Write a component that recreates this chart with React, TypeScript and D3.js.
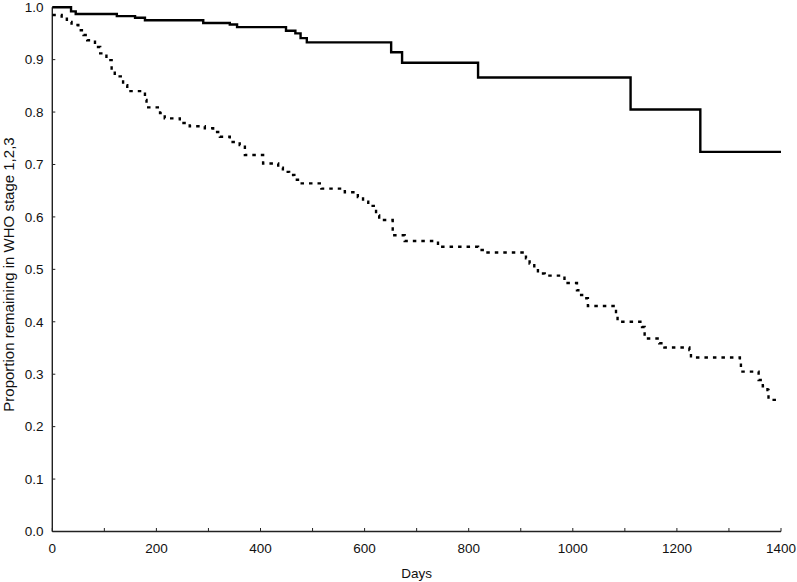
import React from 'react';
import * as d3 from 'd3';

// Kaplan-Meier style step data (day of step, proportion after step)
const groupADays = [0, 36, 45, 124, 159, 178, 290, 341, 355, 449, 467, 477, 489, 651, 672, 818, 1111, 1245, 1400];
const groupAValues = [1.0, 0.992, 0.987, 0.983, 0.98, 0.975, 0.97, 0.967, 0.962, 0.955, 0.95, 0.941, 0.933, 0.914, 0.894, 0.866, 0.805, 0.724, 0.724];

const groupBDays = [
  0, 18, 28, 37, 50, 60, 67, 82, 92, 104, 114, 120, 136, 144, 178, 181, 207, 216, 245, 264,
  293, 309, 322, 341, 360, 370, 405, 434, 443, 455, 465, 472, 517, 562, 587, 597, 607, 622,
  628, 654, 677, 741, 818, 830, 910, 917, 926, 933, 946, 984, 1008, 1016, 1026, 1029, 1083,
  1086, 1133, 1138, 1166, 1176, 1224, 1227, 1321, 1323, 1357, 1365, 1374, 1376, 1395,
];
const groupBValues = [
  0.985, 0.978, 0.972, 0.966, 0.956, 0.947, 0.937, 0.924, 0.912, 0.899, 0.883, 0.868, 0.851,
  0.84, 0.823, 0.809, 0.798, 0.788, 0.779, 0.773, 0.769, 0.762, 0.753, 0.743, 0.737, 0.718,
  0.702, 0.694, 0.686, 0.68, 0.671, 0.664, 0.654, 0.647, 0.638, 0.629, 0.621, 0.603, 0.594,
  0.565, 0.554, 0.543, 0.537, 0.532, 0.521, 0.511, 0.502, 0.492, 0.488, 0.474, 0.46, 0.451,
  0.445, 0.43, 0.416, 0.4, 0.39, 0.368, 0.359, 0.351, 0.346, 0.332, 0.321, 0.305, 0.289,
  0.277, 0.27, 0.251, 0.248,
];

const xTicks = d3.range(0, 1401, 100);
const xLabels = d3.range(0, 1401, 200);
const yTicks = d3.range(0, 11).map((i) => i / 10);

const xTitle = 'Days';
const yTitle = 'Proportion remaining in WHO stage 1,2,3';

const W = 797;
const H = 582;
const font = '"Liberation Sans", Arial, sans-serif';

export default function App() {
  const x = d3.scaleLinear().domain([0, 1400]).range([52.3, 781]);
  const y = d3.scaleLinear().domain([0, 1]).range([531.5, 7.2]);

  const line = d3
    .line<[number, number]>()
    .x((d) => x(d[0]))
    .y((d) => y(d[1]))
    .curve(d3.curveStepAfter);

  const groupA = groupADays.map((d, i) => [d, groupAValues[i]] as [number, number]);
  const groupB = groupBDays.map((d, i) => [d, groupBValues[i]] as [number, number]);

  const axisColor = '#222';

  return (
    <svg
      width={W}
      height={H}
      style={{ position: 'absolute', left: 0, top: 0, background: '#fff' }}
      fontFamily={font}
    >
      {/* axes */}
      <line x1={x(0)} x2={x(0)} y1={y(0)} y2={y(1)} stroke={axisColor} strokeWidth={1.4} />
      <line x1={x(0)} x2={x(1400)} y1={y(0)} y2={y(0)} stroke={axisColor} strokeWidth={1.4} />

      {yTicks.map((t) => (
        <g key={'y' + t}>
          <line x1={x(0)} x2={x(0) + 3} y1={y(t)} y2={y(t)} stroke={axisColor} strokeWidth={1} />
          <text x={43.5} y={y(t)} dy="0.35em" textAnchor="end" fontSize={13.5} fill="#111">
            {d3.format('.1f')(t)}
          </text>
        </g>
      ))}

      {xTicks.map((t) => (
        <line key={'x' + t} x1={x(t)} x2={x(t)} y1={y(0)} y2={y(0) - 3.5} stroke={axisColor} strokeWidth={1} />
      ))}
      {xLabels.map((t) => (
        <text key={'xl' + t} x={x(t)} y={553} textAnchor="middle" fontSize={13.5} fill="#111">
          {t}
        </text>
      ))}

      <text x={(x(0) + x(1400)) / 2} y={577.5} textAnchor="middle" fontSize={13.5} fill="#111">
        {xTitle}
      </text>
      <text
        transform={`translate(14,274.5) rotate(-90)`}
        textAnchor="middle"
        fontSize={15}
        fill="#111"
      >
        {yTitle}
      </text>

      {/* curves */}
      <path d={line(groupA) ?? ''} fill="none" stroke="#000" strokeWidth={2.4} />
      <path
        d={line(groupB) ?? ''}
        fill="none"
        stroke="#000"
        strokeWidth={2.4}
        strokeDasharray="3.5 5"
      />
    </svg>
  );
}
